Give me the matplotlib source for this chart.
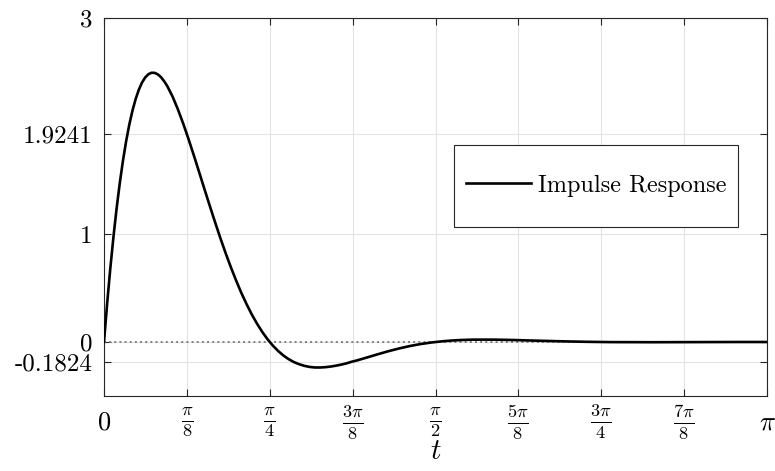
import matplotlib
matplotlib.use("Agg")
import matplotlib.pyplot as plt
from matplotlib.patches import Rectangle
import numpy as np

plt.rcParams["font.family"] = "serif"
plt.rcParams["font.serif"] = ["cmr10", "DejaVu Serif"]
plt.rcParams["mathtext.fontset"] = "cm"
plt.rcParams["axes.unicode_minus"] = False

# impulse response (t in radians)
t_vals = [0.000, 0.015, 0.030, 0.045, 0.060, 0.075, 0.090, 0.105, 0.120, 0.135,
          0.150, 0.165, 0.180, 0.195, 0.210, 0.225, 0.240, 0.255, 0.270, 0.285,
          0.300, 0.325, 0.350, 0.375, 0.400, 0.425, 0.450, 0.475, 0.500, 0.525,
          0.550, 0.575, 0.600, 0.625, 0.650, 0.675, 0.700, 0.725, 0.750, 0.775,
          0.800, 0.825, 0.850, 0.875, 0.900, 0.925, 0.950, 0.975, 1.000, 1.025,
          1.050, 1.075, 1.100, 1.125, 1.150, 1.175, 1.200, 1.250, 1.300, 1.350,
          1.400, 1.450, 1.500, 1.550, 1.600, 1.650, 1.700, 1.750, 1.800, 1.850,
          1.900, 1.950, 2.000, 2.100, 2.200, 2.300, 2.400, 2.600, 2.800, 3.000,
          3.1416]
y_vals = [0.000, 0.358, 0.684, 0.977, 1.241, 1.475, 1.681, 1.860, 2.014, 2.143,
          2.250, 2.336, 2.402, 2.449, 2.479, 2.493, 2.492, 2.478, 2.452, 2.415,
          2.369, 2.272, 2.155, 2.024, 1.882, 1.732, 1.578, 1.422, 1.268, 1.117,
          0.970, 0.830, 0.698, 0.574, 0.458, 0.353, 0.256, 0.170, 0.093, 0.025,
          -0.033, -0.083, -0.125, -0.159, -0.186, -0.206, -0.221, -0.231, -0.236, -0.236,
          -0.233, -0.227, -0.219, -0.209, -0.197, -0.182, -0.170, -0.141, -0.112, -0.084,
          -0.059, -0.037, -0.019, -0.005, 0.006, 0.014, 0.019, 0.022, 0.022, 0.022,
          0.020, 0.018, 0.015, 0.0098, 0.005, 0.0014, -0.001, -0.002, -0.001, 0.000,
          0.000]

x_ticks = [0, np.pi / 8, np.pi / 4, 3 * np.pi / 8, np.pi / 2, 5 * np.pi / 8,
           3 * np.pi / 4, 7 * np.pi / 8, np.pi]
x_ticklabels = ["$0$", r"$\frac{\pi}{8}$", r"$\frac{\pi}{4}$", r"$\frac{3\pi}{8}$",
                r"$\frac{\pi}{2}$", r"$\frac{5\pi}{8}$", r"$\frac{3\pi}{4}$",
                r"$\frac{7\pi}{8}$", r"$\pi$"]
y_ticks = [-0.1824, 0, 1, 1.9241, 3]
y_ticklabels = ["-0.1824", "0", "1", "1.9241", "3"]

fig = plt.figure(figsize=(7.75, 4.71), dpi=100)
ax = fig.add_axes([104 / 775, 75 / 471, 663 / 775, 378 / 471])

ax.plot(t_vals, y_vals, color="black", lw=1.9, label="Impulse Response", zorder=4)
ax.axhline(0, color="#808080", ls=":", lw=1.4, zorder=3)

ax.set_xlim(0, np.pi)
ax.set_ylim(-0.5, 3)
ax.set_xticks(x_ticks)
ax.set_xticklabels(x_ticklabels, fontsize=19)
ax.set_yticks(y_ticks)
ax.set_yticklabels(y_ticklabels, fontsize=18)
for lab in ax.get_xticklabels():
    lab.set_va("center")
ax.tick_params(direction="in", top=True, right=True, length=5, width=0.8,
               color="#262626")
ax.tick_params(axis="x", pad=19)
ax.tick_params(axis="y", pad=8)
ax.grid(True, color="#e3e3e3", lw=0.8, zorder=0)
ax.set_axisbelow(True)
for sp in ax.spines.values():
    sp.set_color("#262626")
    sp.set_linewidth(0.8)

ax.set_xlabel("$t$", fontsize=21)
ax.xaxis.set_label_coords(0.5, -0.148)
ax.xaxis.label.set_va("center")

# legend frame drawn as its own box to match the loose MATLAB padding
ax.add_patch(Rectangle((0.528, 0.447), 0.428, 0.217, transform=ax.transAxes,
                       facecolor="white", edgecolor="#262626", lw=0.8, zorder=5))
ax.legend(loc="center", bbox_to_anchor=(0.742, 0.556), frameon=False,
          fontsize=17.5, handlelength=2.7, handletextpad=0.25).set_zorder(6)

fig.savefig("out.png", dpi=100)
